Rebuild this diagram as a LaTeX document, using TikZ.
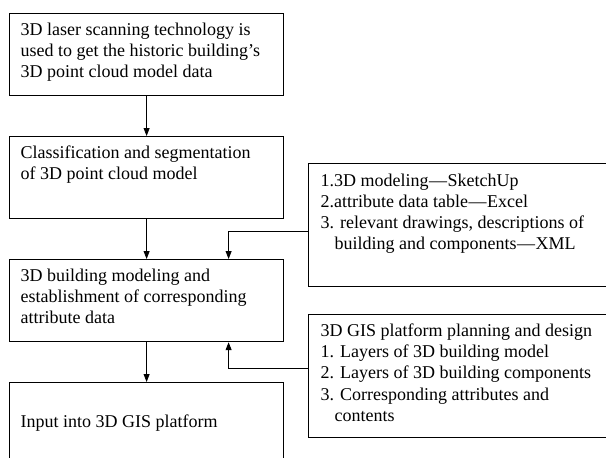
\documentclass[tikz,border=0pt]{standalone}
\usepackage{fontspec}
\setmainfont{Liberation Serif}
\usetikzlibrary{arrows.meta,calc}
\begin{document}
\begin{tikzpicture}[x=1pt,y=-1pt,
  box/.style={draw,line width=1.2pt,inner sep=0,anchor=north west},
  txt/.style={inner sep=0,anchor=north west,align=left,font=\fontsize{18}{21.2}\selectfont},
  arr/.style={line width=0.9pt,-{Triangle[width=6pt,length=8pt]}}]
\useasboundingbox (0,0) rectangle (606,458);
\clip (0,0) rectangle (606,458);
\node[box,minimum width=274pt,minimum height=82pt] (b1) at (9,13) {};
\node[box,minimum width=274pt,minimum height=82pt] (b2) at (9,136) {};
\node[box,minimum width=274pt,minimum height=82pt] (b3) at (9,259) {};
\node[box,minimum width=274pt,minimum height=84pt] (b4) at (9,382) {};
\node[box,minimum width=306pt,minimum height=123pt] (bA) at (308,163) {};
\node[box,minimum width=306pt,minimum height=123pt] (bB) at (308,314) {};
\node[txt] (t1) at (20.5,22.6) {3D laser scanning technology is\\used to get the historic building’s\\3D point cloud model data};
\node[txt] (t2) at (20.5,145.6) {Classification and segmentation\\of 3D point cloud model};
\node[txt] (t3) at (20.5,268.6) {3D building modeling and\\establishment of corresponding\\attribute data};
\node[txt] (t4) at (20.5,414.6) {Input into 3D GIS platform};
\node[txt] (tA) at (320.5,173.6) {1.3D modeling\kern0.5pt—\kern0.5pt SketchUp\\2.attribute data table\kern0.5pt—\kern0.5pt Excel\\3. relevant drawings, descriptions of\\\hspace*{14pt}building and components\kern0.5pt—\kern0.5pt XML};
\node[txt] (tB) at (320.5,323.6) {3D GIS platform planning and design\\1. Layers of 3D building model\\2. Layers of 3D building components\\3. Corresponding attributes and\\\hspace*{14pt}contents};
\draw[arr] (b1.south) -- (b2.north);
\draw[arr] (b2.south) -- (b3.north);
\draw[arr] (b3.south) -- (b4.north);
\draw[arr] ([yshift=-6.5pt]bA.west) -| ([xshift=82pt]b3.north);
\draw[arr] ([yshift=7.5pt]bB.west) -| ([xshift=82pt]b3.south);
\end{tikzpicture}
\end{document}
